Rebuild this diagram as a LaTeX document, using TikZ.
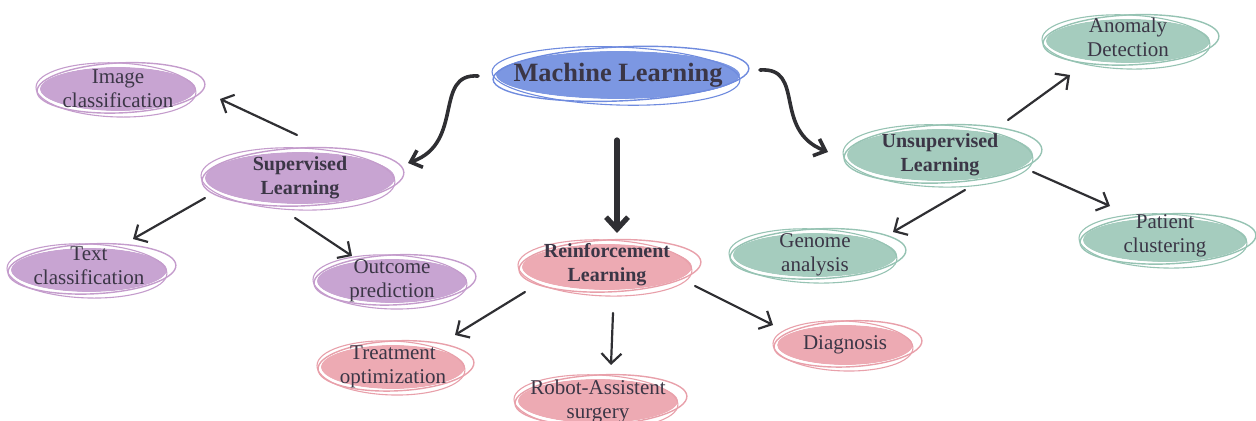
\documentclass[tikz,border=0pt]{standalone}
\usepackage{fontspec}
\setmainfont{Liberation Serif}
\usetikzlibrary{arrows.meta,shapes.geometric}

\definecolor{txtc}{HTML}{3B3646}
\definecolor{arr}{HTML}{2F2F33}
\definecolor{mlfill}{HTML}{7C97E2}
\definecolor{mlline}{HTML}{6F8BDE}
\definecolor{supfill}{HTML}{C8A4D2}
\definecolor{supline}{HTML}{C49CCC}
\definecolor{rlfill}{HTML}{EDAAB3}
\definecolor{rlline}{HTML}{E8A0AA}
\definecolor{unfill}{HTML}{A5CCBE}
\definecolor{unline}{HTML}{96C3B3}

\tikzset{
  blob/.style={ellipse, inner sep=0pt, text=txtc, align=center,
    font=\fontsize{10.5}{12}\selectfont},
  head/.style={font=\bfseries\fontsize{10}{12}\selectfont},
  link/.style={draw=arr, line width=1.1pt, line cap=round,
    -{Straight Barb[length=5pt,width=10pt,line width=1.1pt]}},
  biglink/.style={draw=arr, line width=1.8pt, line cap=round,
    -{Straight Barb[length=5pt,width=9pt,line width=1.8pt]}},
}

% filled ellipse with two loose hand-drawn outline strokes
% #1 name, #2 x, #3 y, #4 rx, #5 ry, #6 fill, #7 stroke, #8 extra style, #9 text
\newcommand\mapnode[9]{%
  \fill[#6] (#2,#3) ellipse [x radius=#4, y radius=#5];
  \draw[white, line width=0.9pt] (#2,#3) ellipse [x radius=#4+1, y radius=#5+1];
  \draw[#7, line width=0.7pt, rotate around={2.5:(#2,#3)}]
    (#2+3,#3-1) ellipse [x radius=#4+6, y radius=#5+3];
  \draw[#7, line width=0.55pt, rotate around={-2:(#2,#3)}]
    (#2-2,#3+1) ellipse [x radius=#4+2, y radius=#5+5];
  \node[blob, #8, minimum width=#4, minimum height=#5] (#1) at (#2,#3) {#9};
}

\begin{document}
\begin{tikzpicture}[x=0.5pt, y=-0.5pt]
\useasboundingbox (0,0) rectangle (1256,421);

% top level
\mapnode{ml}{618}{75}{122}{24}{mlfill}{mlline}{font=\bfseries\fontsize{13.2}{15}\selectfont}{Machine Learning}

% supervised branch
\mapnode{sup}{300}{178}{95}{26}{supfill}{supline}{head}{Supervised\\Learning}
\mapnode{img}{118}{89}{78}{22}{supfill}{supline}{}{Image\\classification}
\mapnode{txt}{89}{270}{78}{22}{supfill}{supline}{yshift=2pt}{Text\\classification}
\mapnode{out}{392}{281}{75}{22}{supfill}{supline}{}{Outcome\\prediction}

% reinforcement branch
\mapnode{rl}{607}{267}{85}{23}{rlfill}{rlline}{head, yshift=1pt}{Reinforcement\\Learning}
\mapnode{trt}{393}{367}{72}{22}{rlfill}{rlline}{}{Treatment\\optimization}
\mapnode{rob}{598}{401}{80}{22}{rlfill}{rlline}{}{Robot-Assistent\\surgery}
\mapnode{dia}{845}{345}{68}{20}{rlfill}{rlline}{}{Diagnosis}

% unsupervised branch
\mapnode{uns}{940}{155}{93}{26}{unfill}{unline}{head}{Unsupervised\\Learning}
\mapnode{ano}{1128}{41}{82}{22}{unfill}{unline}{yshift=2pt}{Anomaly\\Detection}
\mapnode{gen}{815}{255}{82}{22}{unfill}{unline}{}{Genome\\analysis}
\mapnode{pat}{1165}{240}{82}{22}{unfill}{unline}{yshift=2pt}{Patient\\clustering}

% connectors from the root
\draw[biglink] ([shift={(-140,1)}]ml.center)
  .. controls ([shift={(-185,-2)}]ml.center) and ([shift={(165,-35)}]sup.center)
  .. ([shift={(108,-15)}]sup.center);
\draw[draw=arr, line width=2.6pt, line cap=round,
  -{Straight Barb[length=6pt,width=11pt,line width=2.6pt]}]
  ([shift={(-1,65)}]ml.center) -- ([shift={(10,-32)}]rl.center);
\draw[biglink] ([shift={(142,-5)}]ml.center)
  .. controls ([shift={(188,-8)}]ml.center) and ([shift={(-168,-25)}]uns.center)
  .. ([shift={(-112,-3)}]uns.center);

% supervised children
\draw[link] ([shift={(-3,-43)}]sup.center) -- ([shift={(102,10)}]img.center);
\draw[link] ([shift={(-95,20)}]sup.center) -- ([shift={(44,-27)}]txt.center);
\draw[link] ([shift={(-5,40)}]sup.center) -- ([shift={(-40,-25)}]out.center);

% reinforcement children
\draw[link] ([shift={(-82,27)}]rl.center) -- ([shift={(62,-32)}]trt.center);
\draw[link] ([shift={(6,48)}]rl.center) -- ([shift={(13,-36)}]rob.center);
\draw[link] ([shift={(88,21)}]rl.center) -- ([shift={(-72,-20)}]dia.center);

% unsupervised children
\draw[link] ([shift={(68,-35)}]uns.center) -- ([shift={(-58,38)}]ano.center);
\draw[link] ([shift={(25,35)}]uns.center) -- ([shift={(78,-23)}]gen.center);
\draw[link] ([shift={(93,17)}]uns.center) -- ([shift={(-55,-30)}]pat.center);
\end{tikzpicture}
\end{document}
